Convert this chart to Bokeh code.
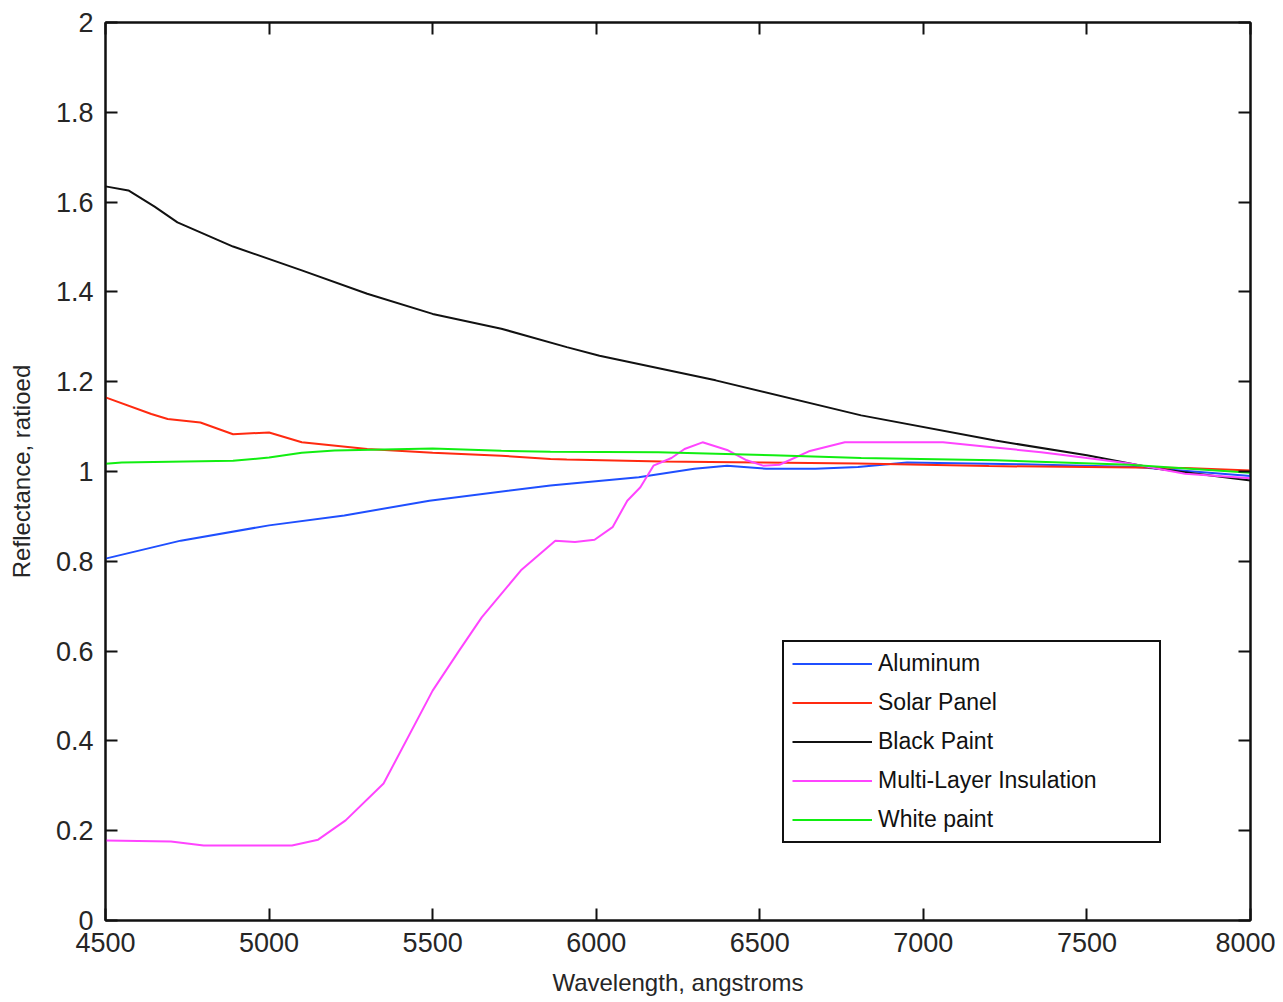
from bokeh.plotting import figure
from bokeh.models import (LinearAxis, FixedTicker, CustomJSTickFormatter, Legend,
                          LegendItem, Range1d)
from bokeh.embed import file_html
from bokeh.resources import INLINE

# ---- data ----
x_ticks = [4500, 5000, 5500, 6000, 6500, 7000, 7500, 8000]
y_ticks = [0, 0.2, 0.4, 0.6, 0.8, 1.0, 1.2, 1.4, 1.6, 1.8, 2.0]

wl_aluminum = [4500, 4730, 5000, 5230, 5490, 5860, 6130, 6300, 6400, 6520, 6670,
               6800, 6950, 7300, 7650, 8000]
aluminum = [0.806, 0.846, 0.880, 0.902, 0.935, 0.969, 0.987, 1.006, 1.013, 1.006, 1.006,
            1.010, 1.020, 1.016, 1.010, 0.990]

wl_solar = [4500, 4640, 4690, 4790, 4890, 5000, 5100, 5300, 5500, 5710, 5860, 5910,
            6200, 6500, 6800, 7200, 7500, 7800, 8000]
solar = [1.165, 1.128, 1.117, 1.109, 1.083, 1.087, 1.065, 1.050, 1.042, 1.035, 1.028, 1.027,
         1.022, 1.020, 1.018, 1.012, 1.010, 1.008, 1.002]

wl_black = [4500, 4570, 4650, 4720, 4890, 5100, 5300, 5500, 5710, 5910, 6010, 6365, 6810,
            7220, 7500, 7715, 8000]
black = [1.635, 1.626, 1.590, 1.555, 1.501, 1.448, 1.396, 1.351, 1.318, 1.277, 1.258, 1.203,
         1.125, 1.069, 1.036, 1.006, 0.980]

wl_mli = [4500, 4700, 4800, 5070, 5150, 5234, 5350, 5500, 5580, 5650, 5770, 5875, 5935,
          5995, 6050, 6095, 6135, 6175, 6230, 6270, 6325, 6400, 6460, 6510, 6560, 6650,
          6760, 7060, 7210, 7360, 7500, 7630, 7800, 8000]
mli = [0.178, 0.176, 0.167, 0.167, 0.180, 0.223, 0.305, 0.512, 0.600, 0.675, 0.780, 0.846,
       0.843, 0.848, 0.876, 0.935, 0.965, 1.013, 1.030, 1.050, 1.065, 1.048, 1.025, 1.013,
       1.015, 1.045, 1.065, 1.065, 1.054, 1.043, 1.030, 1.018, 0.995, 0.985]

wl_white = [4500, 4550, 4890, 5000, 5100, 5200, 5500, 5710, 5860, 6190, 6540, 6810,
            7220, 7630, 8000]
white = [1.017, 1.020, 1.024, 1.031, 1.042, 1.047, 1.051, 1.046, 1.044, 1.043, 1.036, 1.030,
         1.025, 1.015, 0.997]

series = [
    ("Aluminum", wl_aluminum, aluminum, "#1f4fff"),
    ("Solar Panel", wl_solar, solar, "#ff2a10"),
    ("Black Paint", wl_black, black, "#111111"),
    ("Multi-Layer Insulation", wl_mli, mli, "#ff44ff"),
    ("White paint", wl_white, white, "#11ee11"),
]

FONT = "Liberation Sans"
TICK_COLOR = "#262626"

p = figure(width=1275, height=1000, output_backend="svg", toolbar_location=None,
           x_range=Range1d(4500, 8000), y_range=Range1d(0, 2),
           min_border_left=105, min_border_top=22, min_border_right=25, min_border_bottom=80)
p.grid.visible = False
p.background_fill_color = "white"
p.border_fill_color = "white"
p.outline_line_color = "#111111"
p.outline_line_width = 2

renderers = []
for name, xs, ys, col in series:
    r = p.line(xs, ys, line_color=col, line_width=2)
    renderers.append((name, r))

fmt = CustomJSTickFormatter(code="return String(Math.round(tick*10)/10);")
blank = CustomJSTickFormatter(code="return '';")

def style_axis(ax, ticks, show_labels):
    ax.ticker = FixedTicker(ticks=ticks)
    ax.major_tick_in = 12
    ax.major_tick_out = 0
    ax.minor_tick_in = 0
    ax.minor_tick_out = 0
    ax.major_tick_line_color = "#111111"
    ax.major_tick_line_width = 2
    ax.axis_line_color = "#111111"
    ax.axis_line_width = 2
    if show_labels:
        ax.formatter = fmt
        ax.major_label_text_font = FONT
        ax.major_label_text_font_size = "27px"
        ax.major_label_text_color = TICK_COLOR
        ax.major_label_standoff = 12
        ax.axis_label_text_font = FONT
        ax.axis_label_text_font_size = "24px"
        ax.axis_label_text_font_style = "normal"
        ax.axis_label_text_color = TICK_COLOR
    else:
        ax.formatter = blank
        ax.major_label_standoff = 0

xa = p.xaxis[0]
style_axis(xa, x_ticks, True)
xa.axis_label = "Wavelength, angstroms"
xa.axis_label_standoff = 14

ya = p.yaxis[0]
style_axis(ya, y_ticks, True)
ya.axis_label = "Reflectance, ratioed"
ya.axis_label_standoff = 18

top = LinearAxis()
style_axis(top, x_ticks, False)
p.add_layout(top, "above")
right = LinearAxis()
style_axis(right, y_ticks, False)
p.add_layout(right, "right")

legend = Legend(items=[LegendItem(label=n, renderers=[r]) for n, r in renderers],
                location=(677, 77), orientation="vertical")
legend.padding = 8
legend.margin = 0
legend.spacing = 12
legend.glyph_width = 80
legend.glyph_height = 27
legend.label_height = 27
legend.label_width = 273
legend.label_standoff = 6
legend.label_text_font = FONT
legend.label_text_font_size = "23px"
legend.label_text_color = "#111111"
legend.border_line_color = "#111111"
legend.border_line_width = 2
legend.border_line_alpha = 1.0
legend.background_fill_color = "white"
legend.background_fill_alpha = 1.0
p.add_layout(legend)

open("out.html", "w").write(file_html(p, INLINE))
